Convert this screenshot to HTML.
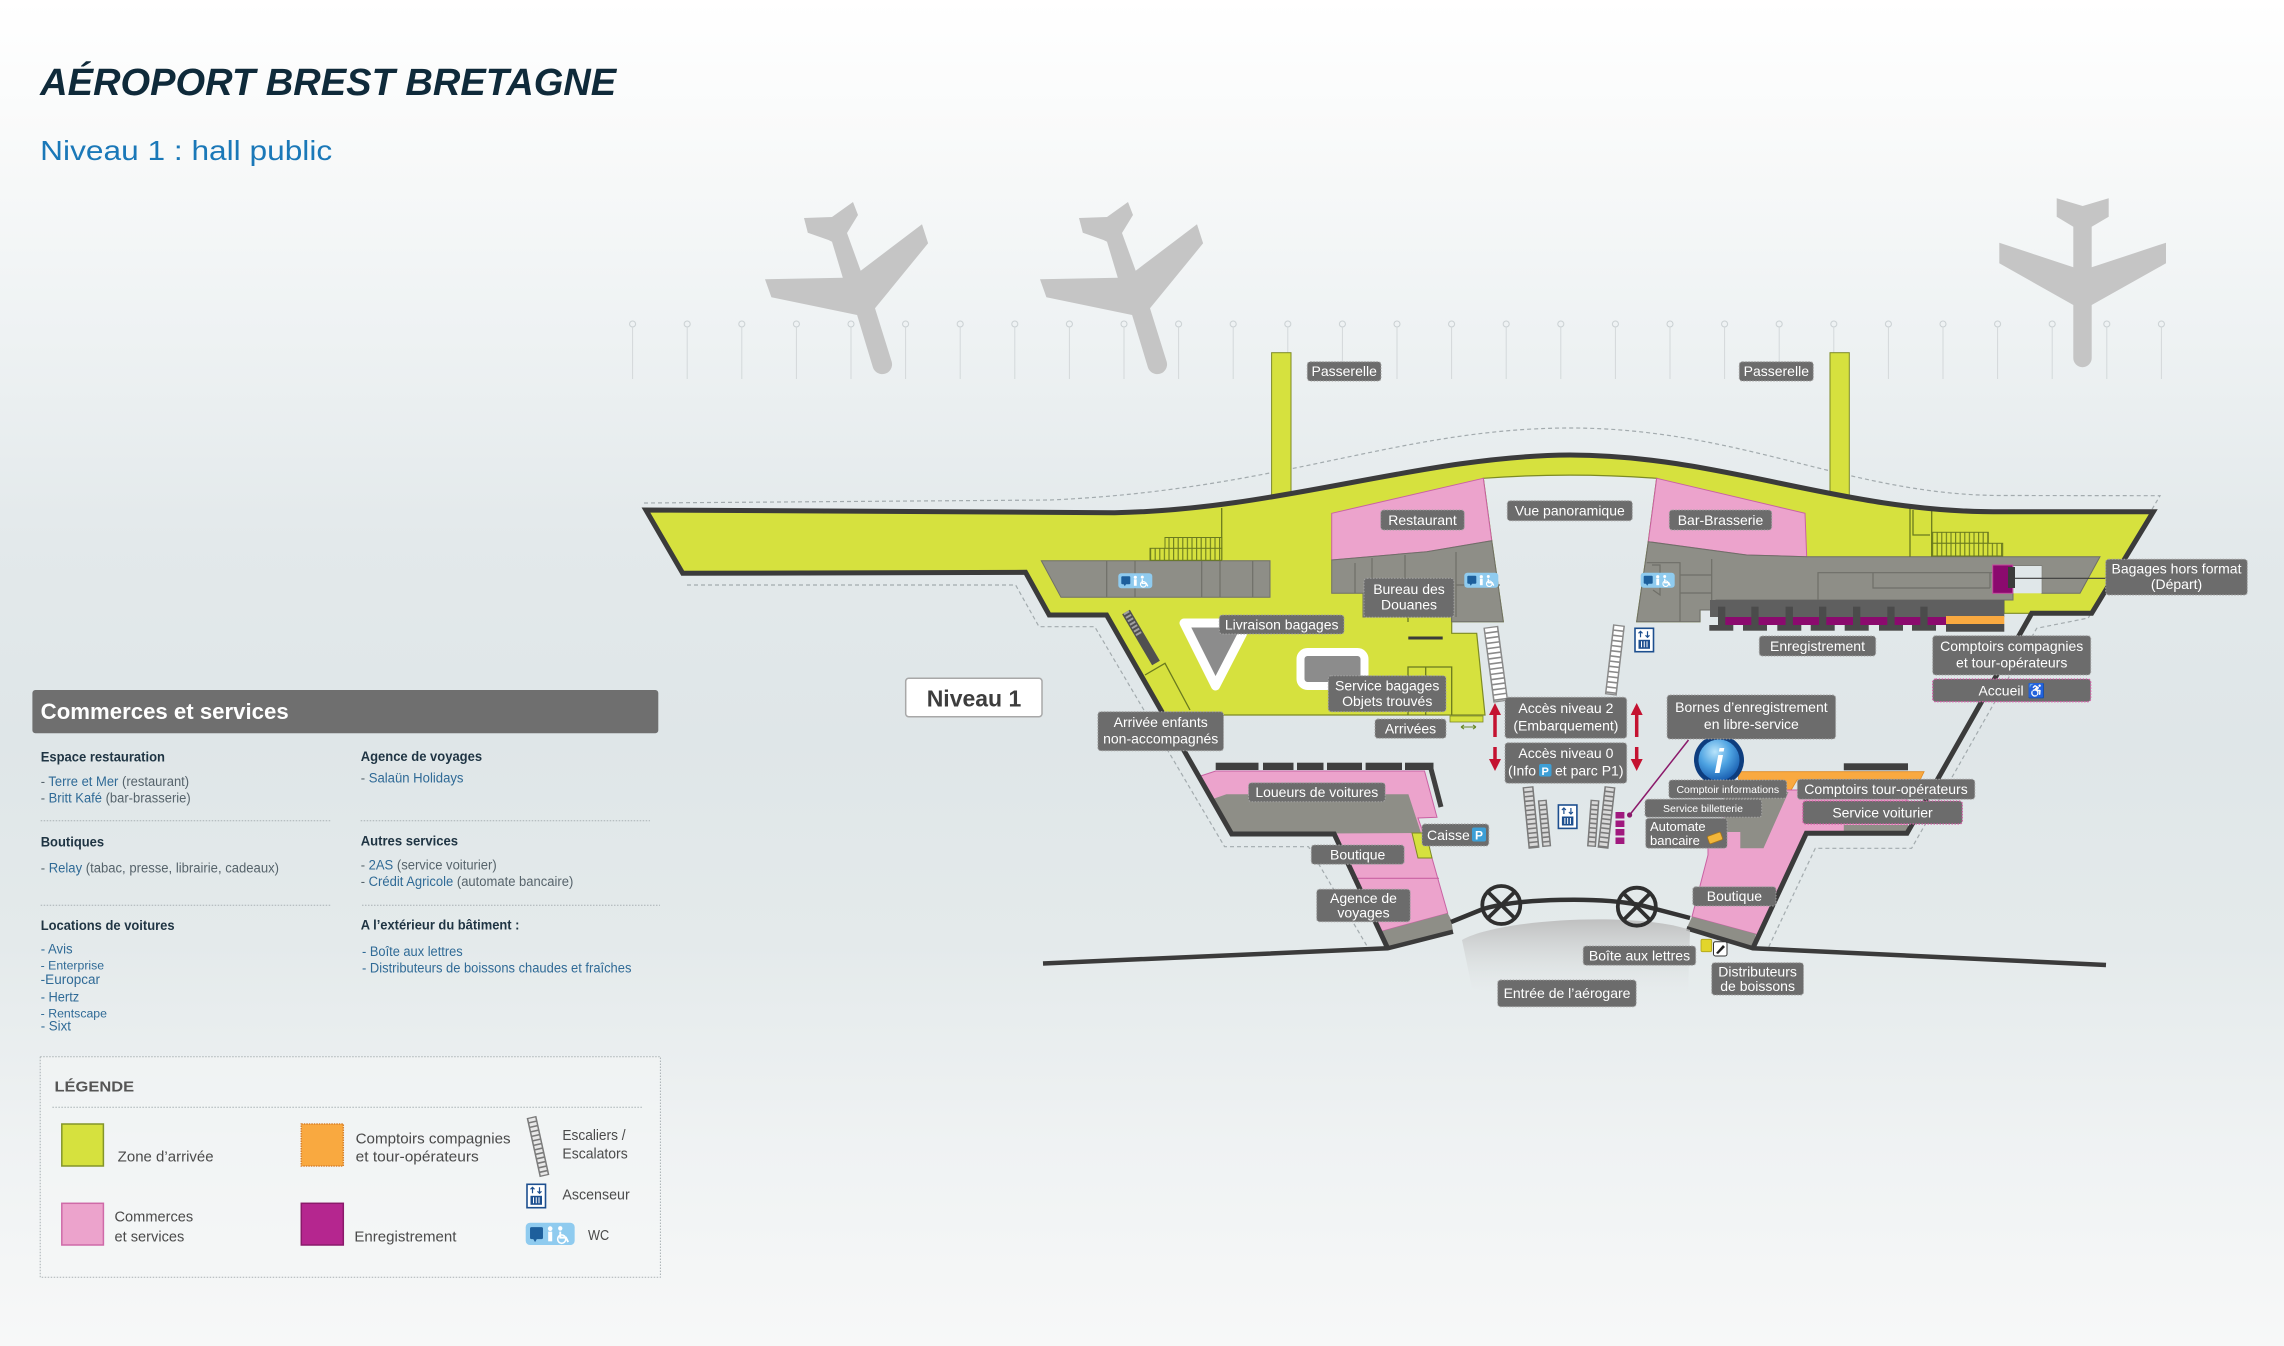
<!DOCTYPE html>
<html lang="fr"><head><meta charset="utf-8"><title>Aéroport Brest Bretagne - Niveau 1</title>
<style>
html,body{margin:0;padding:0;background:#eef2f3;}
svg{display:block}
text{font-family:"Liberation Sans",Arial,sans-serif}
.lb{fill:#6c6c6c;stroke:#a3a3a3;stroke-width:1;stroke-dasharray:1.5 1.5}
.lp{fill:#6c6c6c;stroke:#d35ea6;stroke-width:1.3;stroke-dasharray:1.5 1.5}
.lt{fill:#fff;font-size:14px;text-anchor:middle}
.ls{fill:#fff;font-size:10.5px;text-anchor:middle}
.h{font-weight:bold;fill:#1f3443;font-size:13.5px}
.it{font-size:13.5px;fill:#2f6a96}
.gr{fill:#56636b}
.lg{font-size:14.5px;fill:#4a4a4a}
.dl{stroke:#a9b1b4;stroke-width:1;stroke-dasharray:1.5 1.5}
</style></head><body>
<svg width="2284" height="1346" viewBox="0 0 2284 1346" xmlns="http://www.w3.org/2000/svg">
<defs>
<linearGradient id="bg" x1="0" y1="0" x2="0" y2="1">
<stop offset="0" stop-color="#ffffff"/>
<stop offset="0.1" stop-color="#f9fafa"/>
<stop offset="0.25" stop-color="#eef2f3"/>
<stop offset="0.4" stop-color="#e3e9eb"/>
<stop offset="0.55" stop-color="#dfe6e8"/>
<stop offset="0.7" stop-color="#e4eaeb"/>
<stop offset="0.85" stop-color="#eff2f3"/>
<stop offset="1" stop-color="#f7f8f8"/>
</linearGradient>
<pattern id="pins" patternUnits="userSpaceOnUse" x="605.3" y="319" width="54.6" height="60">
<circle cx="27.3" cy="5" r="3" fill="none" stroke="#c9cfd2" stroke-width="1"/>
<line x1="27.3" y1="8" x2="27.3" y2="60" stroke="#d3d8da" stroke-width="1"/>
</pattern>
<pattern id="rail" patternUnits="userSpaceOnUse" x="0" y="0" width="4.6" height="40">
<rect width="4.6" height="40" fill="#d6e13e"/>
<line x1="0.6" y1="0" x2="0.6" y2="40" stroke="#6a7a1e" stroke-width="1.1"/>
</pattern>
<linearGradient id="shadow" x1="0" y1="0" x2="0" y2="1">
<stop offset="0" stop-color="#bdbdbd" stop-opacity="0.95"/>
<stop offset="1" stop-color="#e6eaeb" stop-opacity="0"/>
</linearGradient>
<radialGradient id="info" cx="0.4" cy="0.3" r="0.75">
<stop offset="0" stop-color="#b8e4fb"/>
<stop offset="0.5" stop-color="#4ea3e2"/>
<stop offset="1" stop-color="#1559ad"/>
</radialGradient>
</defs>

<rect width="2284" height="1346" fill="url(#bg)"/>

<!-- Title -->
<text x="40.2" y="95" font-size="37.7" font-weight="bold" font-style="italic" fill="#0f2a3a" textLength="576" lengthAdjust="spacingAndGlyphs">AÉROPORT BREST BRETAGNE</text>
<text x="40.2" y="160" font-size="28" fill="#1a78b8" textLength="292" lengthAdjust="spacingAndGlyphs">Niveau 1 : hall public</text>

<!-- pins -->
<rect x="605.3" y="319" width="1583.4" height="60" fill="url(#pins)"/>

<!-- planes -->
<path d="M804,218 L832,217 L853,202 L858,215 L847,233 L860.7,270.7 L922,224.3 L928.1,243.3 L875,308.3 L891.7,361.7 A9.8,9.8 0 0 1 872.8,367 L857.1,315 L771.4,297.3 L765,279.3 L842.8,277.7 L832,241.7 L828.5,240 L807.8,232.7 Z" fill="#c5c5c5"/>
<path transform="translate(275,0)" d="M804,218 L832,217 L853,202 L858,215 L847,233 L860.7,270.7 L922,224.3 L928.1,243.3 L875,308.3 L891.7,361.7 A9.8,9.8 0 0 1 872.8,367 L857.1,315 L771.4,297.3 L765,279.3 L842.8,277.7 L832,241.7 L828.5,240 L807.8,232.7 Z" fill="#c5c5c5"/>
<path d="M2056.7,198.3 L2082.7,206 L2108.7,198.3 L2108.7,216.7 L2091.7,226.7 L2091.7,267.3 L2166,242.7 L2166,263.3 L2091.7,305 L2091.7,358 A9.2,9.2 0 0 1 2073.3,358 L2073.3,305 L1999.3,263.3 L1999.3,242.7 L2073.3,267.3 L2073.3,226.7 L2056.7,216.7 Z" fill="#c5c5c5"/>

<!-- dashed outlines -->
<g fill="none" stroke="#a3abae" stroke-width="1.2" stroke-dasharray="4 3">
<path d="M644,503 L1050,500 C1280,490 1400,428 1570,428 C1740,428 1850,495 2000,495.5 L2160,495.7 L2088.3,618 L2036.7,628.3 L1911.6,848.3 L1815.3,848.3 L1768.8,946.7"/>
<path d="M687,585 L1015.6,585 L1039,626.7 L1094.7,626.7 L1224.6,846.7 L1308.5,846.7 L1367.4,946.7"/>
</g>

<!-- passerelles -->
<rect x="1271.6" y="352.7" width="19.4" height="150" fill="#d6e13e" stroke="#7d8a24" stroke-width="1"/>
<rect x="1830" y="352.7" width="19.3" height="150" fill="#d6e13e" stroke="#7d8a24" stroke-width="1"/>

<!-- yellow main zone -->
<path d="M645.9,510 L1114.5,512.7 C1280,510 1420,456 1570,455 C1720,455 1840,511.7 1993.3,511.7 L2153.3,511.7 L2091.7,613.3 L2004,613.3 L2004,600 L1700,600 L1700,621.7 L1636.7,621.7 L1648.3,541.7 L1656.7,478.3 Q1570,472 1483.3,478.3 L1491.7,540.7 L1503.3,621.7 L1451.7,621.7 L1451.7,633.3 L1476.7,633.3 L1485,715 L1162,715 L1106.6,615 L1049.2,615 L1025.5,572.3 L682.7,573.3 Z" fill="#d6e13e" stroke="#7d8a24" stroke-width="1.2"/>

<!-- left wing rooms -->
<path d="M1041.3,560.7 L1270,560.7 L1270,597.3 L1061,597.3 Z" fill="#8e8e87" stroke="#6f6f68" stroke-width="1"/>
<g stroke="#6f6f68" stroke-width="1.2">
<line x1="1106.7" y1="560.7" x2="1106.7" y2="597.3"/><line x1="1135" y1="560.7" x2="1135" y2="597.3"/>
<line x1="1201.7" y1="560.7" x2="1201.7" y2="597.3"/><line x1="1220" y1="560.7" x2="1220" y2="597.3"/>
<line x1="1252.7" y1="560.7" x2="1252.7" y2="597.3"/>
</g>
<line x1="1221.7" y1="508" x2="1221.7" y2="560" stroke="#6a7a1e" stroke-width="1.3"/>
<rect x="1165" y="537.5" width="56.7" height="11" fill="url(#rail)" stroke="#6a7a1e" stroke-width="1"/>
<rect x="1150" y="548.3" width="71.7" height="12" fill="url(#rail)" stroke="#6a7a1e" stroke-width="1"/>

<!-- left hall details -->
<line x1="1126" y1="612" x2="1156" y2="663" stroke="#505050" stroke-width="9"/>
<line x1="1126" y1="612" x2="1140" y2="636" stroke="#a0a0a0" stroke-width="6" stroke-dasharray="2 2"/>
<path d="M1145,675 L1165,663.3 L1190,710" fill="none" stroke="#6a7a1e" stroke-width="1.3"/>
<path d="M1184,623 L1248,623 L1215.5,686 Z" fill="#8c8c8c" stroke="#ffffff" stroke-width="9" stroke-linejoin="round"/>
<rect x="1300.5" y="652" width="64" height="34" rx="7" fill="#8c8c8c" stroke="#ffffff" stroke-width="8"/>
<rect x="1408.3" y="636.5" width="34.4" height="3" fill="#3b3b3b"/>
<g stroke="#6a7a1e" stroke-width="1.3" fill="none">
<path d="M1408,715 L1408,667 L1451.7,667 L1451.7,715"/><line x1="1425.7" y1="667" x2="1425.7" y2="715"/>
<path d="M1408,617 L1408,622 M1451.7,617 L1451.7,622"/>
</g>
<rect x="1450" y="716" width="33" height="6" fill="#d6e13e" stroke="#7d8a24" stroke-width="0.8"/>
<path d="M1461,727 L1476,727 M1461,727 l3,-2 M1461,727 l3,2 M1476,727 l-3,-2 M1476,727 l-3,2" stroke="#6a8a2a" stroke-width="1.1" fill="none"/>

<!-- restaurant -->
<path d="M1331.7,513.3 L1483.3,478.3 L1491.7,540.7 L1426.7,551.7 L1331.7,560 Z" fill="#eca3cc" stroke="#c962a3" stroke-width="1"/>
<path d="M1331.7,560 L1426.7,551.7 L1491.7,540.7 L1503.3,621.7 L1451.7,621.7 L1451.7,617 L1363,617 L1363,593.3 L1331.7,593.3 Z" fill="#8e8e87" stroke="#6f6f68" stroke-width="1"/>
<g stroke="#6f6f68" stroke-width="1.2" fill="none">
<path d="M1372,558 L1372,593 M1355,563 L1355,593 M1405,555 L1405,580 M1456,552 L1456,617 M1456,585 L1500,585"/>
</g>

<!-- bar-brasserie and right wing -->
<path d="M1656.7,478.3 L1805,513.3 L1806.7,556.7 L1746.7,555 L1648.3,541.7 Z" fill="#eca3cc" stroke="#c962a3" stroke-width="1"/>
<path d="M1648.3,541.7 L1746.7,555 L1806.7,556.7 L2100,556.7 L2080,593.3 L2041.7,593.3 L2041.7,566 L2013,566 L2013,600 L1716,600 L1716,610 L1700,610 L1700,621.7 L1636.7,621.7 Z" fill="#8e8e87" stroke="#6f6f68" stroke-width="1"/>
<rect x="2013.3" y="566" width="28.4" height="27.3" fill="#e0e7e9"/>
<g stroke="#6f6f68" stroke-width="1.2" fill="none">
<path d="M1646.7,562.7 L1680,562.7 L1680,621.7 M1680,575 L1711.7,575 M1680,593 L1711.7,593 M1711.7,559 L1711.7,600"/>
<path d="M1818,600 L1818,572.7 L2005,572.7 M1873,572.7 L1873,588 L1990,588 M1990,588 L1990,572.7"/>
<path d="M1652,565 L1660,565 L1660,595 L1653,590"/>
</g>
<g stroke="#6a7a1e" stroke-width="1.3" fill="none">
<line x1="1910" y1="505" x2="1910" y2="556.7"/><line x1="1931.7" y1="508" x2="1931.7" y2="556.7"/>
<path d="M1913,510 L1913,535 L1930,535"/>
</g>
<rect x="1931.7" y="532.3" width="56.6" height="11" fill="url(#rail)" stroke="#6a7a1e" stroke-width="1"/>
<rect x="1931.7" y="543.3" width="71" height="12.7" fill="url(#rail)" stroke="#6a7a1e" stroke-width="1"/>
<rect x="1992.7" y="565" width="20" height="28.3" fill="#8b0a6e" stroke="#c54a9e" stroke-width="1"/>
<rect x="2008" y="567" width="7" height="21" fill="#3b3b3b"/>
<line x1="2015" y1="578.3" x2="2106" y2="578.3" stroke="#3b3b3b" stroke-width="1.2"/>

<!-- enregistrement counters -->
<rect x="1710" y="600" width="294.3" height="17" fill="#5f5f5f"/>
<rect x="1718" y="617" width="228" height="8" fill="#8b0a6e"/>
<rect x="1946" y="616" width="58.3" height="8" fill="#f9a940"/>
<rect x="1946" y="624" width="58.3" height="7.7" fill="#4b4b4b"/>
<g fill="#4b4b4b">
<rect x="1718" y="606.7" width="7.3" height="19"/><rect x="1709.3" y="625" width="24" height="5.7"/>
<rect x="1751.3" y="606.7" width="7.3" height="19"/><rect x="1743" y="625" width="24" height="5.7"/>
<rect x="1785.6" y="606.7" width="7.3" height="19"/><rect x="1777.3" y="625" width="24" height="5.7"/>
<rect x="1819" y="606.7" width="7.3" height="19"/><rect x="1810.7" y="625" width="24" height="5.7"/>
<rect x="1853" y="606.7" width="7.3" height="19"/><rect x="1844.7" y="625" width="24" height="5.7"/>
<rect x="1887.3" y="606.7" width="7.3" height="19"/><rect x="1879" y="625" width="24" height="5.7"/>
<rect x="1920.3" y="606.7" width="7.3" height="19"/><rect x="1912" y="625" width="24" height="5.7"/>
</g>

<!-- lower-left building (loueurs, boutique, agence) -->
<path d="M1197.5,777 L1215.7,771 L1424.5,771 L1437,817.3 L1418,818 L1431.6,856.7 L1447.7,913.3 L1380,931.7 L1334.2,834 L1231.7,834 Z" fill="#eca3cc" stroke="#c962a3" stroke-width="1"/>
<path d="M1210,800 L1226.4,794.3 L1408.4,794.3 L1421,833 L1231.7,834 Z" fill="#8e8e87"/>
<path d="M1412,833 L1426,833 L1432,858 L1418,858 Z" fill="#d6e13e" stroke="#7d8a24" stroke-width="1"/>
<line x1="1352" y1="878.3" x2="1439" y2="878.3" stroke="#c962a3" stroke-width="1.2"/>
<path d="M1380,931.7 L1447.7,913.3 L1451.3,920 L1453,931.7 L1387.7,948.3 Z" fill="#8e8e87"/>
<g fill="#3f3f3f">
<rect x="1215.7" y="762.7" width="42.8" height="7.3"/><rect x="1263" y="762.7" width="30.5" height="7.3"/>
<rect x="1297" y="762.7" width="26.5" height="7.3"/><rect x="1327" y="762.7" width="35" height="7.3"/>
<rect x="1365.6" y="762.7" width="36.4" height="7.3"/><rect x="1405" y="762.7" width="28.5" height="7.3"/>
</g>
<line x1="1430" y1="765" x2="1441" y2="807" stroke="#3f3f3f" stroke-width="5"/>

<!-- lower-right building -->
<path d="M1738.5,771.7 L1924.1,771.7 L1920,780 L1797,780 L1790,792 L1782,792 L1784,780 L1738.5,780 Z" fill="#f9a940" stroke="#e08a20" stroke-width="0.8"/>
<rect x="1843.8" y="763.3" width="64.2" height="7" fill="#3f3f3f"/>
<path d="M1708,832 L1724,832 L1724,790 L1907,790 L1907,833.3 L1806.3,833.3 L1759,935 L1692,916.7 L1708,855 Z" fill="#eca3cc" stroke="#c962a3" stroke-width="1"/>
<path d="M1724,792 L1788.5,792 L1763.5,848.3 L1740.3,848.3 L1740.3,832 L1724,832 Z" fill="#8e8e87"/>
<rect x="1843.8" y="825" width="64.2" height="8.3" fill="#8e8e87"/>
<path d="M1692,916.7 L1756,934 L1752.8,948.3 L1686.7,928.3 Z" fill="#8e8e87"/>

<!-- main outline -->
<path d="M1387.7,948.3 L1334.2,834 L1231.7,834 L1106.6,615 L1049.2,615 L1025.5,572.3 L682.7,573.3 L645.9,510 L1114.5,512.7 C1280,510 1420,456 1570,455 C1720,455 1840,511.7 1993.3,511.7 L2153.3,511.7 L2091.7,613.3 L2031.7,613.3 L1907,833.3 L1806.3,833.3 L1752.8,948.3" fill="none" stroke="#3b3b3b" stroke-width="5" stroke-linejoin="miter"/>
<path d="M1043,963.5 L1387.7,948.3 L1453,931.7" fill="none" stroke="#3b3b3b" stroke-width="4.5"/>
<path d="M1686.7,928.3 L1752.8,948.3 L2106,965" fill="none" stroke="#3b3b3b" stroke-width="4.5"/>

<!-- entrance shadow, road, wheels -->
<path d="M1462,940 C1500,918 1640,912 1690,930 L1688,995 C1600,1002 1520,998 1472,988 Z" fill="url(#shadow)"/>
<path d="M1451,922 L1483,909 C1520,898 1600,897 1640,905 L1690,918" fill="none" stroke="#333" stroke-width="4.5"/>
<g fill="none" stroke="#2f2f2f" stroke-width="3.8">
<circle cx="1501.3" cy="905" r="19"/>
<path d="M1488,892 L1514.6,918 M1514.6,892 L1488,918"/>
<circle cx="1636.8" cy="906.7" r="19"/>
<path d="M1623.5,893.4 L1650.1,920 M1650.1,893.4 L1623.5,920"/>
</g>

<!-- stairs / escalators -->
<line x1="1490.8" y1="626.7" x2="1500.8" y2="701.7" stroke="#8a8a8a" stroke-width="15"/>
<line x1="1490.9" y1="628" x2="1500.7" y2="700.4" stroke="#fff" stroke-width="12" stroke-dasharray="3.6 1.6"/>
<line x1="1619" y1="625" x2="1610.8" y2="695" stroke="#8a8a8a" stroke-width="12"/>
<line x1="1618.9" y1="626.3" x2="1610.9" y2="693.7" stroke="#fff" stroke-width="9" stroke-dasharray="3.6 1.6"/>
<g>
<line x1="1528" y1="786.7" x2="1534" y2="848.3" stroke="#7a7a7a" stroke-width="11"/>
<line x1="1528.1" y1="788" x2="1533.9" y2="847" stroke="#d9d9d9" stroke-width="8" stroke-dasharray="3 1.6"/>
<line x1="1542.3" y1="800" x2="1546.7" y2="846.7" stroke="#7a7a7a" stroke-width="9"/>
<line x1="1542.4" y1="801.3" x2="1546.6" y2="845.4" stroke="#d9d9d9" stroke-width="6" stroke-dasharray="3 1.6"/>
<line x1="1595" y1="800" x2="1591.5" y2="846.7" stroke="#7a7a7a" stroke-width="9"/>
<line x1="1594.9" y1="801.3" x2="1591.6" y2="845.4" stroke="#d9d9d9" stroke-width="6" stroke-dasharray="3 1.6"/>
<line x1="1610" y1="786.7" x2="1603" y2="848.3" stroke="#7a7a7a" stroke-width="11"/>
<line x1="1609.9" y1="788" x2="1603.1" y2="847" stroke="#d9d9d9" stroke-width="8" stroke-dasharray="3 1.6"/>
</g>

<!-- purple kiosks & line -->
<g fill="#a0197e">
<rect x="1615.5" y="812" width="8.9" height="6.5"/><rect x="1615.5" y="820.5" width="8.9" height="6.5"/>
<rect x="1615.5" y="829" width="8.9" height="6.5"/><rect x="1615.5" y="837.5" width="8.9" height="6.5"/>
</g>
<line x1="1629.6" y1="815" x2="1688.5" y2="740" stroke="#8b1a6b" stroke-width="1.5"/>
<circle cx="1629.6" cy="815" r="2.6" fill="#8b1a6b"/>

<!-- red arrows -->
<g fill="#c41230" stroke="#c41230">
<line x1="1495" y1="737" x2="1495" y2="713" stroke-width="3.5"/><path d="M1489,715 L1501,715 L1495,703 Z" stroke="none"/>
<line x1="1495" y1="747" x2="1495" y2="761" stroke-width="3.5"/><path d="M1489,759 L1501,759 L1495,771 Z" stroke="none"/>
<line x1="1636.7" y1="737" x2="1636.7" y2="713" stroke-width="3.5"/><path d="M1630.7,715 L1642.7,715 L1636.7,703 Z" stroke="none"/>
<line x1="1636.7" y1="747" x2="1636.7" y2="761" stroke-width="3.5"/><path d="M1630.7,759 L1642.7,759 L1636.7,771 Z" stroke="none"/>
</g>

<!-- WC icons -->
<g id="wc1" transform="translate(1118.3,573.3)">
<rect width="34" height="15" rx="3" fill="#8fcbef"/>
<rect x="3" y="3" width="9" height="8" rx="1" fill="#1d5f9c"/><path d="M5,10.5 l1.5,2.5 l1.5,-2.5 Z" fill="#1d5f9c"/>
<circle cx="17" cy="4" r="1.6" fill="#fff"/><rect x="15.6" y="6" width="2.8" height="6.5" fill="#fff"/>
<circle cx="24" cy="3.8" r="1.5" fill="#fff"/><path d="M24,6 v4 h4 l1.5,3" stroke="#fff" stroke-width="1.3" fill="none"/>
<circle cx="25" cy="11" r="2.8" stroke="#fff" stroke-width="1.1" fill="none"/>
</g>
<use href="#wc1" transform="translate(346,-0.6)"/>
<use href="#wc1" transform="translate(522.4,-0.6)"/>

<!-- elevator icons -->
<g id="elev" transform="translate(1635,628.3)">
<rect width="18.5" height="23.4" fill="#fff" stroke="#1d4f8f" stroke-width="1.6"/>
<path d="M5.5,9 L5.5,3 M3.5,5 L5.5,3 L7.5,5 M12.5,3 L12.5,9 M10.5,7 L12.5,9 L14.5,7" stroke="#1d4f8f" stroke-width="1.2" fill="none"/>
<rect x="3.5" y="11.5" width="11.5" height="9" fill="#1d4f8f"/>
<path d="M6.5,13 V19 M9.25,13 V19 M12,13 V19" stroke="#fff" stroke-width="1"/>
</g>
<use href="#elev" transform="translate(-76.6,176.7)"/>

<!-- info circle -->
<circle cx="1719" cy="760" r="25" fill="#0e3d7e"/>
<circle cx="1719" cy="760" r="20.5" fill="url(#info)"/>
<text x="1719" y="773" font-family="Liberation Serif,serif" font-size="34" font-weight="bold" font-style="italic" fill="#fff" text-anchor="middle">i</text>

<!-- outside icons -->
<rect x="1701" y="939.3" width="10.7" height="12.4" rx="1.5" fill="#e2d52b" stroke="#b0a31a" stroke-width="0.8"/>
<rect x="1713.5" y="941.7" width="13.5" height="14.3" rx="2" fill="#fff" stroke="#333" stroke-width="1"/>
<path d="M1716,953 L1723,945 L1725,947 L1718,954 Z" fill="#222"/>

<!-- Labels -->
<g>
<rect class="lb" x="1307.3" y="361.7" width="73.7" height="19.3" rx="3"/><text class="lt" x="1344.2" y="376">Passerelle</text>
<rect class="lb" x="1739.3" y="361.7" width="74" height="19.3" rx="3"/><text class="lt" x="1776.3" y="376">Passerelle</text>
<rect class="lb" x="1380.7" y="510" width="83.6" height="20" rx="3"/><text class="lt" x="1422.5" y="525">Restaurant</text>
<rect class="lb" x="1507.3" y="500.7" width="125" height="20" rx="3"/><text class="lt" x="1569.8" y="515.5">Vue panoramique</text>
<rect class="lb" x="1669.3" y="510" width="102.4" height="20" rx="3"/><text class="lt" x="1720.5" y="525">Bar-Brasserie</text>
<rect class="lb" x="1364" y="578.3" width="90" height="39" rx="3"/><text class="lt" x="1409" y="594">Bureau des</text><text class="lt" x="1409" y="609.5">Douanes</text>
<rect class="lb" x="1219.3" y="615" width="124.7" height="19" rx="3"/><text class="lt" x="1281.7" y="629.5">Livraison bagages</text>
<rect class="lb" x="2105.7" y="559.3" width="141.6" height="35.7" rx="3"/><text class="lt" x="2176.5" y="573.5">Bagages hors format</text><text class="lt" x="2176.5" y="589">(Départ)</text>
<rect class="lb" x="1759.3" y="636" width="116.4" height="20" rx="3"/><text class="lt" x="1817.5" y="651">Enregistrement</text>
<rect class="lb" x="1932.7" y="635.7" width="158" height="39.3" rx="3"/><text class="lt" x="2011.7" y="651">Comptoirs compagnies</text><text class="lt" x="2011.7" y="667.5">et tour-opérateurs</text>
<rect class="lp" x="1932.7" y="679" width="158" height="22.7" rx="3"/><text class="lt" x="2011.7" y="695.5">Accueil ♿</text>
<rect class="lb" x="1328.3" y="675.7" width="117.7" height="36" rx="3"/><text class="lt" x="1387.2" y="690.5">Service bagages</text><text class="lt" x="1387.2" y="706">Objets trouvés</text>
<rect class="lb" x="1375" y="719" width="71" height="19.3" rx="3"/><text class="lt" x="1410.5" y="733.5">Arrivées</text>
<rect class="lb" x="1097.9" y="711.7" width="125.6" height="39" rx="3"/><text class="lt" x="1160.7" y="727">Arrivée enfants</text><text class="lt" x="1160.7" y="743.5">non-accompagnés</text>
<rect class="lb" x="1505" y="697.3" width="121.7" height="41" rx="3"/><text class="lt" x="1565.9" y="713">Accès niveau 2</text><text class="lt" x="1565.9" y="730.5">(Embarquement)</text>
<rect class="lb" x="1505" y="742.7" width="121.7" height="40.6" rx="3"/><text class="lt" x="1565.9" y="758">Accès niveau 0</text>
<text x="1508" y="775.5" fill="#fff" font-size="14">(Info</text>
<rect x="1539" y="764" width="12.5" height="12.5" rx="2" fill="#3d9fd6"/><text x="1545.2" y="775" fill="#fff" font-size="11" font-weight="bold" text-anchor="middle">P</text>
<text x="1555" y="775.5" fill="#fff" font-size="14">et parc P1)</text>
<rect class="lb" x="1667.1" y="695" width="168.5" height="44" rx="3"/><text class="lt" x="1751.4" y="712">Bornes d’enregistrement</text><text class="lt" x="1751.4" y="729">en libre-service</text>
<rect class="lb" x="1248.5" y="782.7" width="136.7" height="19" rx="3"/><text class="lt" x="1316.8" y="797">Loueurs  de voitures</text>
<rect class="lb" x="1422" y="824" width="66.8" height="22" rx="3"/><text x="1427" y="840" fill="#fff" font-size="14">Caisse</text>
<rect x="1472" y="827.5" width="14" height="14" rx="2" fill="#3d9fd6"/><text x="1479" y="839.5" fill="#fff" font-size="12" font-weight="bold" text-anchor="middle">P</text>
<rect class="lb" x="1311.3" y="845" width="92.9" height="19.3" rx="3"/><text class="lt" x="1357.7" y="859.5">Boutique</text>
<rect class="lb" x="1316.7" y="889.3" width="93.5" height="32.4" rx="3"/><text class="lt" x="1363.5" y="903">Agence de</text><text class="lt" x="1363.5" y="917.5">voyages</text>
<rect class="lb" x="1668.9" y="780" width="117.8" height="18.3" rx="3"/><text class="ls" x="1727.8" y="793">Comptoir informations</text>
<rect class="lb" x="1797.4" y="779.3" width="177.4" height="20" rx="3"/><text class="lt" x="1886" y="794">Comptoirs tour-opérateurs</text>
<rect class="lb" x="1645" y="799.3" width="116.7" height="18" rx="3"/><text class="ls" x="1703" y="812">Service billetterie</text>
<rect class="lp" x="1802.8" y="801" width="159.5" height="23" rx="3"/><text class="lt" x="1882.5" y="817.5">Service voiturier</text>
<rect class="lb" x="1645.7" y="818.3" width="81.4" height="30" rx="3"/><text x="1650" y="831" fill="#fff" font-size="13">Automate</text><text x="1650" y="845" fill="#fff" font-size="13">bancaire</text>
<rect x="1708" y="834" width="14" height="8" rx="1.5" fill="#f2b63a" stroke="#a8751a" stroke-width="0.8" transform="rotate(-20 1715 838)"/>
<rect class="lb" x="1692.8" y="886.7" width="83.2" height="19.3" rx="3"/><text class="lt" x="1734.4" y="901">Boutique</text>
<rect class="lb" x="1583.2" y="946" width="112.5" height="19.3" rx="3"/><text class="lt" x="1639.5" y="960.5">Boîte aux lettres</text>
<rect class="lb" x="1497.7" y="980" width="138.5" height="26.7" rx="3"/><text class="lt" x="1567" y="998">Entrée de l’aérogare</text>
<rect class="lb" x="1711.7" y="962.7" width="91.8" height="32.3" rx="3"/><text class="lt" x="1757.6" y="976.5">Distributeurs</text><text class="lt" x="1757.6" y="991">de boissons</text>
</g>

<!-- Niveau 1 box -->
<rect x="905.7" y="678.3" width="136.3" height="38.4" rx="3" fill="#fff" stroke="#a8a8a8" stroke-width="1.5"/>
<text x="974" y="706.5" font-size="23" font-weight="bold" fill="#3d3d3d" text-anchor="middle">Niveau 1</text>

<!-- Left panel: Commerces et services -->
<rect x="32.4" y="690" width="625.9" height="43.3" rx="3" fill="#6f6f6f"/>
<text x="40.7" y="719" font-size="22" font-weight="bold" fill="#fff" textLength="248" lengthAdjust="spacingAndGlyphs">Commerces et services</text>

<text class="h" x="40.7" y="761.5" textLength="124.3" lengthAdjust="spacingAndGlyphs">Espace restauration</text>
<text class="it" x="40.7" y="786" textLength="148.4" lengthAdjust="spacingAndGlyphs"><tspan class="gr">- </tspan>Terre et Mer<tspan class="gr"> (restaurant)</tspan></text>
<text class="it" x="40.7" y="802.7" textLength="150" lengthAdjust="spacingAndGlyphs"><tspan class="gr">- </tspan>Britt Kafé<tspan class="gr"> (bar-brasserie)</tspan></text>
<line class="dl" x1="40.7" y1="820.7" x2="331" y2="820.7"/>
<text class="h" x="40.7" y="846.7" textLength="63.4" lengthAdjust="spacingAndGlyphs">Boutiques</text>
<text class="it" x="40.7" y="872.7" textLength="238.3" lengthAdjust="spacingAndGlyphs"><tspan class="gr">-  </tspan>Relay<tspan class="gr"> (tabac, presse, librairie, cadeaux)</tspan></text>
<line class="dl" x1="40.7" y1="905.3" x2="331" y2="905.3"/>
<text class="h" x="40.7" y="930" textLength="133.9" lengthAdjust="spacingAndGlyphs">Locations de voitures</text>
<text class="it" x="40.7" y="953.3" textLength="31.9" lengthAdjust="spacingAndGlyphs">- Avis</text>
<text class="it" x="40.7" y="969.3" font-size="11.5" style="font-size:11.5px" textLength="63.4" lengthAdjust="spacingAndGlyphs">- Enterprise</text>
<text class="it" x="40.7" y="984" textLength="59.3" lengthAdjust="spacingAndGlyphs">-Europcar</text>
<text class="it" x="40.7" y="1001.7" textLength="38.5" lengthAdjust="spacingAndGlyphs">- Hertz</text>
<text class="it" x="40.7" y="1017.3" style="font-size:11.5px" textLength="66.3" lengthAdjust="spacingAndGlyphs">- Rentscape</text>
<text class="it" x="40.7" y="1030.7" textLength="30.3" lengthAdjust="spacingAndGlyphs">- Sixt</text>

<text class="h" x="360.7" y="761" textLength="121.4" lengthAdjust="spacingAndGlyphs">Agence de voyages</text>
<text class="it" x="360.7" y="782.7" textLength="102.8" lengthAdjust="spacingAndGlyphs"><tspan class="gr">- </tspan>Salaün Holidays</text>
<line class="dl" x1="360.7" y1="820.7" x2="650" y2="820.7"/>
<text class="h" x="360.7" y="845.7" textLength="97.4" lengthAdjust="spacingAndGlyphs">Autres services</text>
<text class="it" x="360.7" y="869.3" textLength="136" lengthAdjust="spacingAndGlyphs"><tspan class="gr">- </tspan>2AS<tspan class="gr"> (service voiturier)</tspan></text>
<text class="it" x="360.7" y="886" textLength="212.6" lengthAdjust="spacingAndGlyphs"><tspan class="gr">- </tspan>Crédit Agricole<tspan class="gr"> (automate bancaire)</tspan></text>
<line class="dl" x1="362" y1="905.3" x2="660" y2="905.3"/>
<text class="h" x="360.7" y="929.3" textLength="158.8" lengthAdjust="spacingAndGlyphs">A l’extérieur du bâtiment :</text>
<text class="it" x="362" y="956" textLength="100.7" lengthAdjust="spacingAndGlyphs">- Boîte aux lettres</text>
<text class="it" x="362" y="972.7" textLength="269.4" lengthAdjust="spacingAndGlyphs">- Distributeurs de boissons chaudes et fraîches</text>

<!-- Legend -->
<rect x="40.2" y="1056.7" width="620.2" height="220.6" fill="#f4f6f6" fill-opacity="0.55" stroke="#a9b1b4" stroke-width="1" stroke-dasharray="1.5 1.5"/>
<text x="54.5" y="1091.7" font-size="15" font-weight="bold" fill="#555" textLength="79.6" lengthAdjust="spacingAndGlyphs">LÉGENDE</text>
<line class="dl" x1="52.4" y1="1107.3" x2="642" y2="1107.3"/>
<rect x="61.8" y="1124" width="41.6" height="42" fill="#d6e13e" stroke="#84952a" stroke-width="1.5"/>
<text class="lg" x="117.7" y="1161.7" textLength="95.9" lengthAdjust="spacingAndGlyphs">Zone d’arrivée</text>
<rect x="301.3" y="1124" width="42" height="42" fill="#f9a940" stroke="#d9812a" stroke-width="1.5" stroke-dasharray="1.5 1"/>
<text class="lg" x="355.6" y="1143.3" textLength="155" lengthAdjust="spacingAndGlyphs">Comptoirs compagnies</text>
<text class="lg" x="355.6" y="1161.7" textLength="123.2" lengthAdjust="spacingAndGlyphs">et tour-opérateurs</text>
<rect x="61.8" y="1203.3" width="41.6" height="41.7" fill="#eca3cc" stroke="#cf6aa8" stroke-width="1.5"/>
<text class="lg" x="114.5" y="1221.7" textLength="78.7" lengthAdjust="spacingAndGlyphs">Commerces</text>
<text class="lg" x="114.5" y="1241.7" textLength="69.8" lengthAdjust="spacingAndGlyphs">et services</text>
<rect x="301.3" y="1203.3" width="42" height="41.7" fill="#b5268f" stroke="#8a1a6b" stroke-width="1.5"/>
<text class="lg" x="354.4" y="1241.7" textLength="102" lengthAdjust="spacingAndGlyphs">Enregistrement</text>
<line x1="531.5" y1="1117" x2="544.5" y2="1176" stroke="#7a7a7a" stroke-width="10"/>
<line x1="531.8" y1="1118.3" x2="544.2" y2="1174.7" stroke="#e8e8e8" stroke-width="7" stroke-dasharray="3 1.6"/>
<text class="lg" x="562.4" y="1140" textLength="63.2" lengthAdjust="spacingAndGlyphs">Escaliers /</text>
<text class="lg" x="562.4" y="1158.3" textLength="65.3" lengthAdjust="spacingAndGlyphs">Escalators</text>
<use href="#elev" transform="translate(-1108,556) scale(1)"/>
<text class="lg" x="562.4" y="1199.3" textLength="67.3" lengthAdjust="spacingAndGlyphs">Ascenseur</text>
<g transform="translate(525.7,1222.7) scale(1.44,1.49)">
<rect width="34" height="15" rx="3" fill="#8fcbef"/>
<rect x="3" y="3" width="9" height="8" rx="1" fill="#1d5f9c"/><path d="M5,10.5 l1.5,2.5 l1.5,-2.5 Z" fill="#1d5f9c"/>
<circle cx="17" cy="4" r="1.6" fill="#fff"/><rect x="15.6" y="6" width="2.8" height="6.5" fill="#fff"/>
<circle cx="24" cy="3.8" r="1.5" fill="#fff"/><path d="M24,6 v4 h4 l1.5,3" stroke="#fff" stroke-width="1.3" fill="none"/>
<circle cx="25" cy="11" r="2.8" stroke="#fff" stroke-width="1.1" fill="none"/>
</g>
<text class="lg" x="588" y="1240" textLength="21.2" lengthAdjust="spacingAndGlyphs">WC</text>
</svg>
</body></html>
